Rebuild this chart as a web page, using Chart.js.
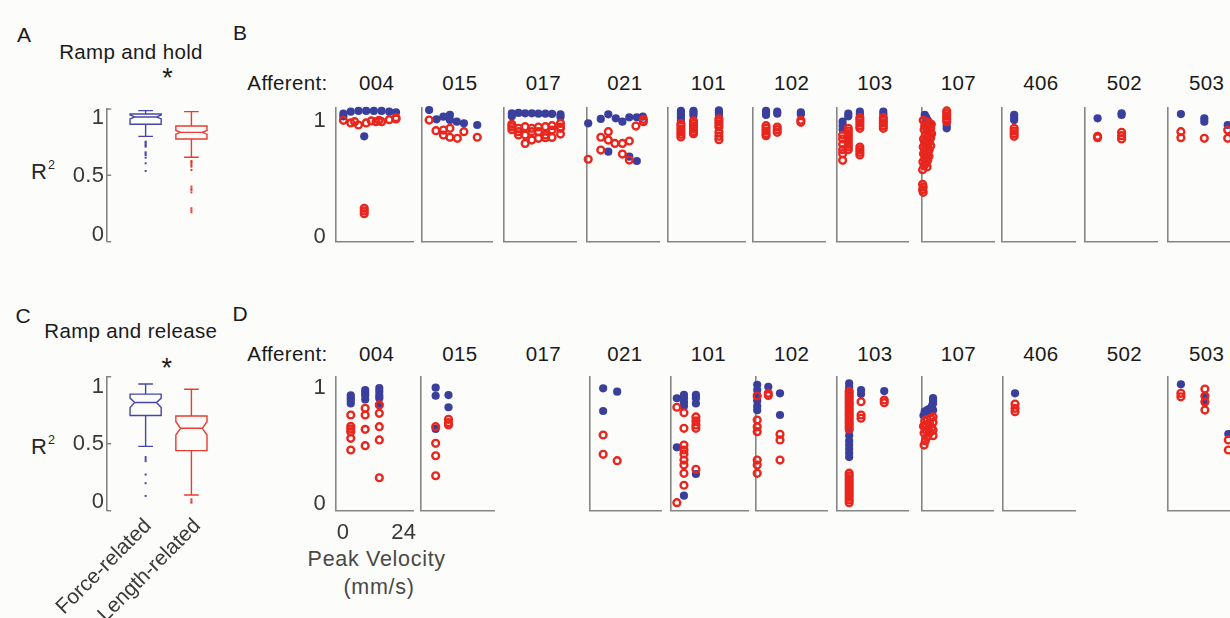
<!DOCTYPE html>
<html>
<head>
<meta charset="utf-8">
<title>R2 of force- and length-related models</title>
<script src="https://cdn.jsdelivr.net/npm/chart.js@4.4.1/dist/chart.umd.min.js"></script>
<style>
  html, body { margin: 0; padding: 0; }
  body {
    width: 1230px; height: 618px; position: relative; overflow: hidden;
    background: #fcfcfa; color: #1a1a1a;
    font-family: "Liberation Sans", Arial, Helvetica, sans-serif;
  }
  .t { position: absolute; white-space: nowrap; line-height: 1; transform: translate(-50%, -50%);
       font-size: 20.5px; letter-spacing: 0.35px; }
  .letter { font-size: 21px; letter-spacing: 0; }
  .star { font-size: 27px; letter-spacing: 0; }
  .axisname { font-size: 21.5px; letter-spacing: 0.7px; color: #484848; }
  .r2 { transform: translateY(-50%); font-size: 22px; letter-spacing: 0; color: #262626; }
  .r2 sup { font-size: 12.5px; vertical-align: 0; position: relative; top: -9.5px; margin-left: 1px; }
  canvas { position: absolute; }
</style>
</head>
<body>
<div class="t letter" style="left:24px;top:33.7px">A</div>
<div class="t" style="left:131px;top:51.7px">Ramp and hold</div>
<div class="t star" style="left:167.5px;top:77.5px">*</div>
<div class="t r2" style="left:31px;top:171.7px">R<sup>2</sup></div>
<div class="t letter" style="left:240px;top:32px">B</div>

<div class="t letter" style="left:23px;top:314.5px">C</div>
<div class="t" style="left:130.8px;top:330.8px">Ramp and release</div>
<div class="t star" style="left:166.7px;top:367.5px">*</div>
<div class="t r2" style="left:31px;top:446.7px">R<sup>2</sup></div>
<div class="t letter" style="left:240px;top:313px">D</div>

<div class="t axisname" style="left:376.7px;top:559.7px">Peak Velocity</div>
<div class="t axisname" style="left:379px;top:588px">(mm/s)</div>

<script>
// ---------- categories and tick labels ----------
const afferents = ['004', '015', '017', '021', '101', '102', '103', '107', '406', '502', '503'];
const groupNames = ['Force-related', 'Length-related'];
const rSquaredTicks = [0, 0.5, 1];
const panelRTicks = [0, 1];
const velocityTicks = [0, 24];
const velocityRange = [0, 24];

// ---------- box plot summaries: [lower whisker, q1, median, q3, upper whisker] ----------
const holdForceBox = [0.794, 0.885, 0.94, 0.962, 0.988];
const holdForceNotch = [0.925, 0.955];
const holdForceOutliers = [0.754, 0.745, 0.734, 0.725, 0.716, 0.674, 0.663, 0.653, 0.633, 0.591, 0.533];
const holdLengthBox = [0.636, 0.774, 0.824, 0.872, 0.98];
const holdLengthNotch = [0.81, 0.838];
const holdLengthOutliers = [0.608, 0.6, 0.591, 0.578, 0.565, 0.54, 0.415, 0.4, 0.39, 0.372, 0.252, 0.237, 0.222];

const releaseForceBox = [0.48, 0.71, 0.808, 0.87, 0.946];
const releaseForceNotch = [0.77, 0.84];
const releaseForceOutliers = [0.4, 0.385, 0.37, 0.27, 0.205, 0.11];
const releaseLengthBox = [0.117, 0.448, 0.615, 0.707, 0.906];
const releaseLengthNotch = [0.565, 0.664];
const releaseLengthOutliers = [0.085, 0.07, 0.06];

// ---------- ramp and hold: [peak velocity (mm/s), R2] ----------
const holdForce004 = [[2.3,0.94],[2.3,0.96],[4.6,0.975],[7.0,0.98],[9.4,0.98],[8.8,0.79],[11.8,0.98],[14.2,0.98],[16.6,0.975],[18.7,0.97]];
const holdLength004 = [[2.3,0.91],[4.6,0.89],[5.8,0.9],[7.0,0.875],[9.4,0.89],[11.0,0.905],[12.5,0.9],[13.4,0.91],[14.2,0.9],[16.6,0.915],[18.7,0.92],[18.7,0.93],[8.8,0.25],[8.8,0.23],[8.8,0.21]];
const holdForce015 = [[2.5,0.987],[5.0,0.917],[7.3,0.937],[9.5,0.95],[9.5,0.912],[11.8,0.9],[14.2,0.887],[18.7,0.875]];
const holdLength015 = [[2.5,0.912],[4.8,0.832],[7.3,0.837],[7.3,0.8],[9.5,0.85],[9.5,0.783],[12.0,0.775],[14.2,0.825],[18.7,0.783]];
const holdForce017 = [[2.6,0.962],[2.6,0.94],[4.8,0.965],[7.0,0.962],[9.2,0.962],[11.4,0.96],[13.7,0.96],[15.9,0.958],[18.7,0.955],[18.7,0.935]];
const holdLength017 = [[2.6,0.88],[2.6,0.862],[2.6,0.84],[4.8,0.825],[4.8,0.85],[4.8,0.8],[7.0,0.862],[7.0,0.737],[7.0,0.8],[9.2,0.825],[9.2,0.762],[9.2,0.85],[11.4,0.825],[11.4,0.775],[11.4,0.86],[13.7,0.862],[13.7,0.8],[13.7,0.78],[15.9,0.837],[15.9,0.782],[15.9,0.87],[18.7,0.887],[18.7,0.807],[18.7,0.85],[18.7,0.86]];
const holdForce021 = [[0.4,0.887],[4.6,0.92],[7.1,0.955],[9.6,0.925],[11.8,0.9],[14.1,0.932],[16.6,0.932],[18.6,0.937],[7.1,0.675],[14.1,0.637],[16.6,0.605]];
const holdLength021 = [[0.4,0.618],[4.6,0.783],[4.6,0.687],[7.1,0.825],[7.1,0.762],[9.3,0.737],[11.8,0.737],[14.1,0.755],[11.8,0.657],[14.1,0.612],[16.3,0.867],[18.8,0.917],[18.8,0.9]];
const holdForce101 = [[4.1,0.98],[4.1,0.965],[4.1,0.95],[4.1,0.93],[4.1,0.91],[8.0,0.98],[8.0,0.965],[8.0,0.945],[15.9,0.985],[15.9,0.97],[15.9,0.95]];
const holdLength101 = [[4.1,0.885],[4.1,0.865],[4.1,0.845],[4.1,0.825],[4.1,0.805],[4.1,0.785],[8.0,0.905],[8.0,0.885],[8.0,0.865],[8.0,0.845],[8.0,0.825],[8.0,0.81],[15.9,0.92],[15.9,0.9],[15.9,0.88],[15.9,0.86],[15.9,0.82],[15.9,0.79],[15.9,0.765]];
const holdForce102 = [[4.3,0.98],[4.3,0.965],[4.3,0.95],[8.0,0.975],[8.0,0.96],[15.8,0.97],[15.8,0.955]];
const holdLength102 = [[4.3,0.87],[4.3,0.85],[4.3,0.83],[4.3,0.81],[4.3,0.795],[8.0,0.86],[8.0,0.84],[8.0,0.82],[15.8,0.91],[15.8,0.895]];
const holdForce103 = [[2.0,0.9],[2.0,0.87],[2.0,0.84],[3.9,0.96],[3.9,0.94],[7.8,0.975],[7.8,0.955],[15.7,0.975],[15.7,0.955]];
const holdLength103 = [[2.0,0.8],[2.0,0.77],[2.0,0.73],[2.0,0.69],[2.0,0.66],[2.0,0.61],[3.9,0.85],[3.9,0.83],[3.9,0.81],[3.9,0.79],[3.9,0.77],[3.9,0.75],[3.9,0.73],[3.9,0.71],[3.9,0.69],[7.8,0.93],[7.8,0.91],[7.8,0.89],[7.8,0.87],[7.8,0.85],[7.8,0.71],[7.8,0.69],[7.8,0.67],[7.8,0.65],[15.7,0.93],[15.7,0.91],[15.7,0.89],[15.7,0.87],[15.7,0.85]];
const holdForce107 = [[1.0,0.95],[1.5,0.93],[2.0,0.91],[2.5,0.89],[1.2,0.87],[2.8,0.88],[8.3,0.87],[8.3,0.85]];
const holdLength107 = [[0.5,0.91],[1.5,0.9],[2.5,0.89],[3.2,0.88],[1.0,0.87],[2.0,0.86],[3.0,0.85],[0.8,0.84],[1.8,0.83],[2.8,0.82],[3.3,0.81],[1.2,0.8],[2.2,0.79],[3.0,0.78],[0.6,0.77],[1.6,0.76],[2.6,0.75],[1.0,0.74],[2.0,0.73],[3.0,0.72],[0.5,0.71],[1.5,0.7],[2.5,0.69],[1.0,0.68],[2.0,0.67],[0.6,0.66],[1.6,0.65],[2.4,0.64],[1.0,0.62],[2.0,0.61],[0.4,0.6],[1.4,0.59],[0.8,0.57],[1.8,0.56],[0.3,0.54],[0.3,0.43],[0.5,0.41],[0.3,0.39],[0.5,0.37],[8.3,0.98],[8.3,0.96],[8.3,0.94],[8.3,0.92],[8.3,0.9]];
const holdForce406 = [[4.0,0.95],[4.0,0.93],[4.0,0.912]];
const holdLength406 = [[4.0,0.85],[4.0,0.83],[4.0,0.81],[4.0,0.79]];
const holdForce502 = [[4.2,0.925],[12.2,0.962],[12.2,0.95]];
const holdLength502 = [[4.2,0.78],[4.2,0.79],[12.2,0.82],[12.2,0.795],[12.2,0.77]];
const holdForce503 = [[4.3,0.957],[12.1,0.925],[12.1,0.9],[19.9,0.875]];
const holdLength503 = [[4.3,0.825],[4.3,0.78],[12.1,0.775],[19.9,0.837],[19.9,0.775]];

// ---------- ramp and release: [peak velocity (mm/s), R2] ----------
const releaseForce004 = [[4.6,0.86],[4.6,0.84],[4.6,0.82],[4.6,0.8],[9.1,0.9],[9.1,0.88],[9.1,0.86],[9.1,0.83],[13.5,0.915],[13.5,0.89],[13.5,0.86],[13.5,0.84],[13.5,0.79]];
const releaseLength004 = [[4.6,0.714],[4.6,0.63],[4.6,0.61],[4.6,0.59],[4.6,0.54],[4.6,0.453],[9.1,0.764],[9.1,0.714],[9.1,0.607],[9.1,0.485],[13.5,0.789],[13.5,0.727],[13.5,0.627],[13.5,0.528],[13.5,0.246]];
const releaseForce015 = [[4.8,0.918],[4.8,0.858],[4.8,0.61],[9.0,0.863],[9.0,0.772]];
const releaseLength015 = [[4.8,0.627],[4.8,0.503],[4.8,0.41],[4.8,0.261],[9.0,0.682],[9.0,0.657],[9.0,0.64]];
const releaseForce021 = [[4.4,0.913],[9.1,0.888],[4.4,0.744]];
const releaseLength021 = [[4.4,0.565],[4.4,0.421],[9.1,0.373]];
const releaseForce101 = [[1.9,0.839],[1.9,0.473],[4.1,0.865],[4.1,0.84],[4.1,0.81],[4.1,0.78],[4.1,0.112],[7.8,0.865],[7.8,0.84],[7.8,0.8],[7.8,0.274]];
const releaseLength101 = [[1.9,0.772],[1.9,0.06],[4.1,0.731],[4.1,0.615],[4.1,0.49],[4.1,0.453],[4.1,0.423],[4.1,0.378],[4.1,0.341],[4.1,0.279],[4.1,0.19],[7.8,0.7],[7.8,0.67],[7.8,0.64],[7.8,0.615],[7.8,0.309]];
const releaseForce102 = [[0.5,0.94],[0.5,0.9],[0.5,0.86],[0.5,0.82],[0.5,0.78],[0.5,0.75],[4.2,0.925],[8.1,0.876],[8.1,0.714]];
const releaseLength102 = [[0.5,0.856],[0.5,0.677],[0.5,0.627],[0.5,0.59],[0.5,0.378],[0.5,0.341],[0.5,0.279],[4.2,0.876],[4.2,0.86],[8.1,0.57],[8.1,0.528],[8.1,0.378]];
const releaseForce103 = [[4.2,0.95],[4.2,0.92],[4.2,0.9],[4.2,0.85],[4.2,0.8],[4.2,0.75],[4.2,0.7],[4.2,0.65],[4.2,0.6],[4.2,0.56],[4.2,0.52],[4.2,0.49],[4.2,0.46],[4.2,0.43],[4.2,0.4],[8.2,0.9],[8.2,0.87],[16.0,0.893]];
const releaseLength103 = [[4.2,0.89],[4.2,0.87],[4.2,0.85],[4.2,0.83],[4.2,0.81],[4.2,0.79],[4.2,0.77],[4.2,0.75],[4.2,0.73],[4.2,0.71],[4.2,0.69],[4.2,0.67],[4.2,0.65],[4.2,0.63],[4.2,0.61],[4.2,0.28],[4.2,0.26],[4.2,0.24],[4.2,0.22],[4.2,0.2],[4.2,0.18],[4.2,0.16],[4.2,0.14],[4.2,0.12],[4.2,0.1],[4.2,0.08],[4.2,0.06],[8.2,0.813],[8.2,0.714],[8.2,0.69],[16.0,0.826],[16.0,0.806]];
const releaseForce107 = [[3.6,0.84],[3.6,0.82],[3.6,0.8],[3.2,0.78],[2.4,0.76],[1.6,0.75],[0.8,0.74],[1.2,0.72],[2.8,0.73],[3.6,0.75],[0.4,0.71]];
const releaseLength107 = [[3.6,0.7],[2.8,0.69],[1.6,0.68],[0.8,0.67],[3.6,0.66],[2.4,0.65],[1.2,0.64],[0.4,0.63],[3.2,0.62],[2.0,0.61],[3.6,0.6],[1.2,0.6],[2.4,0.58],[0.6,0.58],[3.6,0.56],[1.6,0.55],[1.0,0.52],[0.6,0.49]];
const releaseForce406 = [[4.1,0.876]];
const releaseLength406 = [[4.1,0.796],[4.1,0.764],[4.1,0.739]];
const releaseForce503 = [[4.2,0.943],[12.2,0.85],[12.2,0.81],[20.0,0.572]];
const releaseLength503 = [[4.2,0.876],[4.2,0.85],[12.2,0.908],[12.2,0.856],[12.2,0.813],[12.2,0.751],[20.0,0.528],[20.0,0.453]];

// per-afferent tables (null where no ramp-and-release trials exist)
const holdForce = [holdForce004, holdForce015, holdForce017, holdForce021, holdForce101, holdForce102, holdForce103, holdForce107, holdForce406, holdForce502, holdForce503];
const holdLength = [holdLength004, holdLength015, holdLength017, holdLength021, holdLength101, holdLength102, holdLength103, holdLength107, holdLength406, holdLength502, holdLength503];
const releaseForce = [releaseForce004, releaseForce015, null, releaseForce021, releaseForce101, releaseForce102, releaseForce103, releaseForce107, releaseForce406, null, releaseForce503];
const releaseLength = [releaseLength004, releaseLength015, null, releaseLength021, releaseLength101, releaseLength102, releaseLength103, releaseLength107, releaseLength406, null, releaseLength503];

// ---------- layout ----------
const BLUE = '#3b3f9c', RED = '#e8261e', BOX_BLUE = '#4646aa', BOX_RED = '#e63c31';
const AXIS_COLOR = '#858585', TICK_COLOR = '#383838';
const TICK_FONT = '22px "Liberation Sans", Arial, sans-serif';
const BOX_WIDTH = 0.68, CAP_WIDTH = 0.32, NOTCH_DEPTH = 0.15;

const holdTop = 108.3, holdHeight = 133.4;
const releaseTop = 376.7, releaseHeight = 134;
const holdLefts = [336, 421.7, 504, 587, 667.7, 753, 836.7, 921.7, 1002, 1085, 1168];
const holdWidths = [77, 71.3, 72.5, 72, 77.3, 72.7, 71.3, 72.3, 73, 72, 72];
const releaseLefts = [336, 421, null, 590, 670.7, 755.7, 836.7, 922.3, 1002.7, null, 1168.3];
const releaseWidths = [77, 73.3, null, 71.7, 77.6, 72, 71.3, 71.7, 72.3, null, 72];
const afferentLabelX = [376.7, 460, 543.3, 625, 708.3, 791.7, 875, 958.3, 1041, 1124.3, 1206.7];
const headerY = [82.5, 353.7];

// ---------- drawing helpers ----------
function drawBox(ctx, xs, ys, b) {
  const [lo, q1, med, q3, hi] = b.stats;
  const y = v => ys.getPixelForValue(v);
  const cx = xs.getPixelForValue(b.pos);
  const hw = xs.getPixelForValue(b.pos + BOX_WIDTH / 2) - cx;
  const cw = xs.getPixelForValue(b.pos + CAP_WIDTH / 2) - cx;
  const inset = hw * NOTCH_DEPTH * 2;
  ctx.strokeStyle = b.color;
  ctx.lineWidth = 1.4;
  ctx.beginPath();
  ctx.moveTo(cx - hw, y(q3));
  ctx.lineTo(cx + hw, y(q3));
  ctx.lineTo(cx + hw, y(b.notch[1]));
  ctx.lineTo(cx + hw - inset, y(med));
  ctx.lineTo(cx + hw, y(b.notch[0]));
  ctx.lineTo(cx + hw, y(q1));
  ctx.lineTo(cx - hw, y(q1));
  ctx.lineTo(cx - hw, y(b.notch[0]));
  ctx.lineTo(cx - hw + inset, y(med));
  ctx.lineTo(cx - hw, y(b.notch[1]));
  ctx.closePath();
  ctx.moveTo(cx - hw + inset, y(med));
  ctx.lineTo(cx + hw - inset, y(med));
  ctx.moveTo(cx, y(q3)); ctx.lineTo(cx, y(hi));
  ctx.moveTo(cx - cw, y(hi)); ctx.lineTo(cx + cw, y(hi));
  ctx.moveTo(cx, y(q1)); ctx.lineTo(cx, y(lo));
  ctx.moveTo(cx - cw, y(lo)); ctx.lineTo(cx + cw, y(lo));
  ctx.stroke();
}

// boxes, inward ticks and tick labels for each small panel
const panelDecor = {
  id: 'panelDecor',
  afterDatasetsDraw(chart) {
    const d = chart.canvas._decor;
    if (!d) return;
    const ctx = chart.ctx, xs = chart.scales.x, ys = chart.scales.y;
    ctx.save();
    (d.boxes || []).forEach(b => drawBox(ctx, xs, ys, b));
    if (d.innerTicks) {
      ctx.strokeStyle = AXIS_COLOR;
      ctx.lineWidth = 1.5;
      ctx.beginPath();
      d.innerTicks.forEach(v => {
        const py = ys.getPixelForValue(v);
        ctx.moveTo(xs.left, py);
        ctx.lineTo(xs.left + 4.5, py);
      });
      ctx.stroke();
    }
    ctx.font = TICK_FONT;
    ctx.fillStyle = TICK_COLOR;
    if ('letterSpacing' in ctx) ctx.letterSpacing = '0.3px';
    if (d.yLabels) {
      ctx.textAlign = 'right';
      ctx.textBaseline = 'middle';
      d.yLabels.forEach((v, i) => ctx.fillText(String(v), xs.left - d.yGap, ys.getPixelForValue(v) + d.yShift[i]));
    }
    if (d.xLabels) {
      ctx.textAlign = 'center';
      ctx.textBaseline = 'middle';
      d.xLabels.forEach((v, i) => ctx.fillText(String(v), xs.getPixelForValue(v) + d.xShift[i], ys.bottom + d.xGap));
    }
    if (d.categories) {
      ctx.textAlign = 'right';
      ctx.textBaseline = 'middle';
      ctx.font = '21px "Liberation Sans", Arial, sans-serif';
      ctx.fillStyle = '#3a3a3a';
      if ('letterSpacing' in ctx) ctx.letterSpacing = '0px';
      d.categories.forEach((name, i) => {
        ctx.save();
        ctx.translate(xs.getPixelForValue(i + 1) + d.catShift[i], ys.bottom + 12);
        ctx.rotate(-Math.PI / 4);
        ctx.fillText(name, 0, 0);
        ctx.restore();
      });
    }
    ctx.restore();
  }
};

function makePanel(area, pad, xRange, datasets, decor, showX) {
  const cLeft = Math.floor(area.left - pad.left);
  const cTop = Math.floor(area.top - pad.top);
  const padding = {
    left: area.left - cLeft,
    top: area.top - cTop,
    right: pad.right,
    bottom: pad.bottom
  };
  const w = Math.ceil(padding.left + area.width + pad.right);
  const h = Math.ceil(padding.top + area.height + pad.bottom);
  padding.right = w - padding.left - area.width;
  padding.bottom = h - padding.top - area.height;
  const c = document.createElement('canvas');
  c.width = w; c.height = h;
  c.style.left = cLeft + 'px'; c.style.top = cTop + 'px';
  c.style.width = w + 'px'; c.style.height = h + 'px';
  c._decor = decor;
  document.body.appendChild(c);
  const hidden = { display: false, drawTicks: false };
  new Chart(c, {
    type: 'scatter',
    data: { datasets },
    options: {
      responsive: false, animation: false, devicePixelRatio: 1, events: [],
      layout: { padding },
      plugins: { legend: { display: false }, tooltip: { enabled: false } },
      scales: {
        x: { type: 'linear', min: xRange[0], max: xRange[1],
             afterFit(s) { s.height = 0; },
             ticks: { display: false }, grid: hidden,
             border: { display: showX, color: AXIS_COLOR, width: 1.6 } },
        y: { type: 'linear', min: 0, max: 1,
             afterFit(s) { s.width = 0; },
             ticks: { display: false }, grid: hidden,
             border: { display: true, color: AXIS_COLOR, width: 1.6 } }
      }
    },
    plugins: [panelDecor]
  });
}

const toPoints = arr => arr.map(([x, y]) => ({ x, y }));

function scatterSets(force, length) {
  return [
    { label: groupNames[1], data: toPoints(length), pointStyle: 'circle', pointRadius: 3.4,
      pointBorderWidth: 2.4, pointBorderColor: RED, pointBackgroundColor: 'rgba(0,0,0,0)', clip: false },
    { label: groupNames[0], data: toPoints(force), pointStyle: 'circle', pointRadius: 4.1,
      pointBorderWidth: 0, pointBorderColor: BLUE, pointBackgroundColor: BLUE, clip: false }
  ];
}

function outlierSets(forceOut, lengthOut) {
  return [
    { label: groupNames[0], data: forceOut.map(v => ({ x: 1, y: v })), pointStyle: 'rect', pointRadius: 1.4,
      pointBorderWidth: 0, pointBackgroundColor: BOX_BLUE, clip: false },
    { label: groupNames[1], data: lengthOut.map(v => ({ x: 2, y: v })), pointStyle: 'rect', pointRadius: 1.4,
      pointBorderWidth: 0, pointBackgroundColor: BOX_RED, clip: false }
  ];
}

// ---------- text headers ----------
function addText(text, x, y) {
  const el = document.createElement('div');
  el.className = 't';
  el.style.left = x + 'px';
  el.style.top = y + 'px';
  el.textContent = text;
  document.body.appendChild(el);
}
headerY.forEach(yy => {
  addText('Afferent:', 287.5, yy);
  afferents.forEach((a, i) => addText(a, afferentLabelX[i], yy));
});

// ---------- A and C: box plots ----------
const boxRange = [0.15, 2.6];
makePanel({ left: 106.7, top: 109, width: 112.2, height: 132.7 },
  { left: 40, right: 10, top: 8, bottom: 10 }, boxRange,
  outlierSets(holdForceOutliers, holdLengthOutliers),
  { boxes: [ { pos: 1, stats: holdForceBox, notch: holdForceNotch, color: BOX_BLUE },
             { pos: 2, stats: holdLengthBox, notch: holdLengthNotch, color: BOX_RED } ],
    innerTicks: rSquaredTicks, yLabels: rSquaredTicks, yGap: 2.5, yShift: [-6.7, 0.5, 8.7] },
  false);

makePanel({ left: 106.7, top: 376.7, width: 112.2, height: 134 },
  { left: 62, right: 10, top: 8, bottom: 107 }, boxRange,
  outlierSets(releaseForceOutliers, releaseLengthOutliers),
  { boxes: [ { pos: 1, stats: releaseForceBox, notch: releaseForceNotch, color: BOX_BLUE },
             { pos: 2, stats: releaseLengthBox, notch: releaseLengthNotch, color: BOX_RED } ],
    innerTicks: rSquaredTicks, yLabels: rSquaredTicks, yGap: 2.5, yShift: [-8.5, 0.3, 10],
    categories: groupNames, catShift: [2.5, 6] },
  false);

// ---------- B and D: per-afferent scatter panels ----------
const scatterPad = { left: 40, right: 8, top: 8, bottom: 8 };
afferents.forEach((a, i) => {
  makePanel({ left: holdLefts[i], top: holdTop, width: holdWidths[i], height: holdHeight },
    scatterPad, velocityRange, scatterSets(holdForce[i], holdLength[i]),
    i === 0 ? { yLabels: panelRTicks, yGap: 10, yShift: [-5, 12.7] } : {}, true);
  if (releaseForce[i]) {
    makePanel({ left: releaseLefts[i], top: releaseTop, width: releaseWidths[i], height: releaseHeight },
      i === 0 ? { left: 40, right: 8, top: 8, bottom: 36 } : scatterPad,
      velocityRange, scatterSets(releaseForce[i], releaseLength[i]),
      i === 0 ? { yLabels: panelRTicks, yGap: 10, yShift: [-6.5, 11],
                  xLabels: velocityTicks, xShift: [7, -9.3], xGap: 22.5 } : {}, true);
  }
});
</script>
</body>
</html>
